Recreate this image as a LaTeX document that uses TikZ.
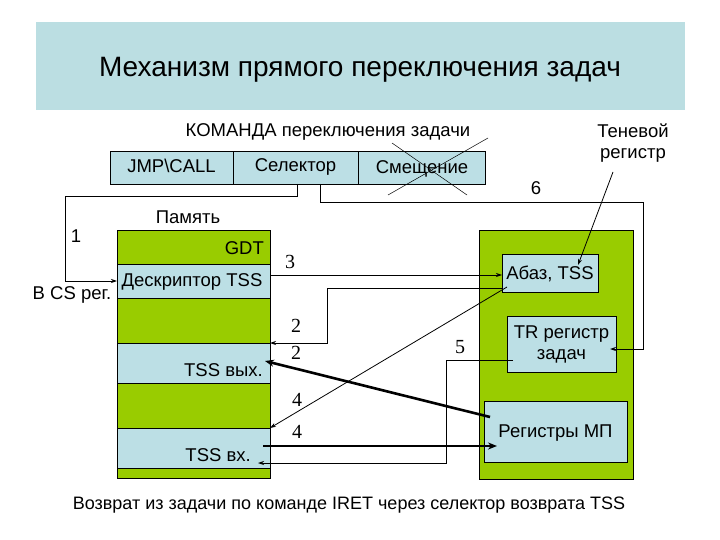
\documentclass[tikz,border=0pt]{standalone}
\usepackage{fontspec}
\setmainfont{Liberation Sans}
\newfontfamily\numfont{Liberation Serif}
\usetikzlibrary{arrows.meta}
\definecolor{bandblue}{HTML}{BBDEE2}
\definecolor{cellblue}{HTML}{BCDFE5}
\definecolor{cellgreen}{HTML}{99CC00}
\tikzset{
  cell/.style={draw, line width=0.8pt, inner sep=0pt, outer sep=0pt},
  lbl/.style={inner sep=0pt, font=\fontsize{18.5}{21}\selectfont},
  num/.style={inner sep=0pt, font=\fontsize{20}{22}\selectfont\numfont},
  conn/.style={line width=0.8pt, -{Stealth[length=6pt,width=4pt]}},
  thickconn/.style={line width=2.6pt, -{Stealth[length=9pt,width=7pt]}},
  plain/.style={line width=0.8pt}
}
\begin{document}
\begin{tikzpicture}[x=1pt,y=-1pt]
\useasboundingbox (0,0) rectangle (720,540);
\fill[white] (0,0) rectangle (720,540);
% title band
\node[fill=bandblue, minimum width=649pt, minimum height=88pt, inner sep=0pt] (band) at (360.5,66) {};
\node[inner sep=0pt, font=\fontsize{28}{32}\selectfont] (title) at (360,70) {Механизм прямого переключения задач};
% command
\node[lbl] (cmdlbl) at (328,132) {КОМАНДА переключения задачи};
\node[cell, fill=cellblue, minimum width=123pt, minimum height=33pt] (jmp) at (171.5,167.5) {};
\node[cell, fill=cellblue, minimum width=125pt, minimum height=33pt] (sel) at (295.5,167.5) {};
\node[cell, fill=cellblue, minimum width=127pt, minimum height=33pt] (smq) at (421.5,167.5) {};
\node[lbl] (jmpt) at (171.5,166) {JMP\textbackslash CALL};
\node[lbl] (selt) at (295.5,167) {Селектор};
\node[lbl] (smqt) at (422,169) {Смещение};
\draw[line width=0.5pt] (388,195) -- (488,138);
\draw[line width=0.5pt] (392,143) -- (467,195);
\node[lbl, align=center] (shadow) at (633,143) {Теневой\\регистр};
% memory column
\node[cell, fill=cellgreen, minimum width=153pt, minimum height=34pt] (gdt) at (193.5,247) {};
\node[cell, fill=cellblue, minimum width=153pt, minimum height=34pt] (desc) at (193.5,281) {};
\node[cell, fill=cellgreen, minimum width=153pt, minimum height=45pt] (g2) at (193.5,320.5) {};
\node[cell, fill=cellblue, minimum width=153pt, minimum height=40pt] (tout) at (193.5,363) {};
\node[cell, fill=cellgreen, minimum width=153pt, minimum height=45pt] (g3) at (193.5,405.5) {};
\node[cell, fill=cellblue, minimum width=153pt, minimum height=40pt] (tin) at (193.5,448) {};
\node[cell, fill=cellgreen, minimum width=153pt, minimum height=10pt] (g4) at (193.5,473) {};
\node[lbl, anchor=east] (gdtt) at (264,248) {GDT};
\node[lbl] (desct) at (192,282) {Дескриптор TSS};
\node[lbl, anchor=east] (toutt) at (263,370) {TSS вых.};
\node[lbl, anchor=east] (tint) at (251,455) {TSS вх.};
\node[lbl] (mem) at (188,217) {Память};
\node[lbl] (cs) at (72,295) {В CS рег.};
% processor column
\node[cell, fill=cellgreen, minimum width=154pt, minimum height=249pt] (cpu) at (556,354.5) {};
\node[cell, fill=cellblue, minimum width=96pt, minimum height=38pt] (abaz) at (550,273) {};
\node[cell, fill=cellblue, minimum width=109pt, minimum height=56pt] (tr) at (561.5,344) {};
\node[cell, fill=cellblue, minimum width=143pt, minimum height=61pt] (regs) at (555.5,431.5) {};
\node[lbl] (abazt) at (550,274) {Абаз, TSS};
\node[lbl, align=center] (trt) at (561.5,344) {TR регистр\\задач};
\node[lbl] (regst) at (555.5,433) {Регистры МП};
% connector coordinates
\coordinate (c1a) at (297,184);
\coordinate (c6a) at (320,184);
\coordinate (desc3) at (270,275);
\coordinate (abaz3) at (502,275);
\coordinate (abaz2) at (502,288);
\coordinate (abaz4) at (507,287);
\coordinate (regs2) at (490,417);
\coordinate (tout2) at (265,361);
\coordinate (tin4) at (263,446);
\coordinate (regs4) at (497,446);
\coordinate (tr5) at (513,360);
\coordinate (tin5) at (258,463);
\coordinate (tr6) at (610,349);
\coordinate (shadowa) at (613,172);
\coordinate (shadowb) at (578,265);
% connectors
\draw[conn] (c1a) |- (65,196) |- (desc.west);
\draw[conn] (c6a) |- (643,202) |- (tr6);
\draw[conn] (desc3) -- (abaz3);
\draw[conn] (abaz2) -| (327,343) -- (tout.north east);
\draw[conn] (abaz4) -- (tin.north east);
\draw[thickconn] (regs2) -- (tout2);
\draw[thickconn] (tin4) -- (regs4);
\draw[conn] (tr5) -| (446,463) -- (tin5);
\draw[conn] (shadowa) -- (shadowb);
% labels
\node[lbl] (n1) at (76,236) {1};
\node[lbl] (n6) at (536,188) {6};
\node[num] (n3) at (290,262) {3};
\node[num] (n2a) at (296,326) {2};
\node[num] (n2b) at (296,353) {2};
\node[num] (n4a) at (297,400) {4};
\node[num] (n4b) at (297,432) {4};
\node[num] (n5) at (460,347) {5};
\node[lbl, font=\fontsize{18}{21}\selectfont] (bottom) at (349,505) {Возврат из задачи по команде IRET через селектор возврата TSS};
\end{tikzpicture}
\end{document}
